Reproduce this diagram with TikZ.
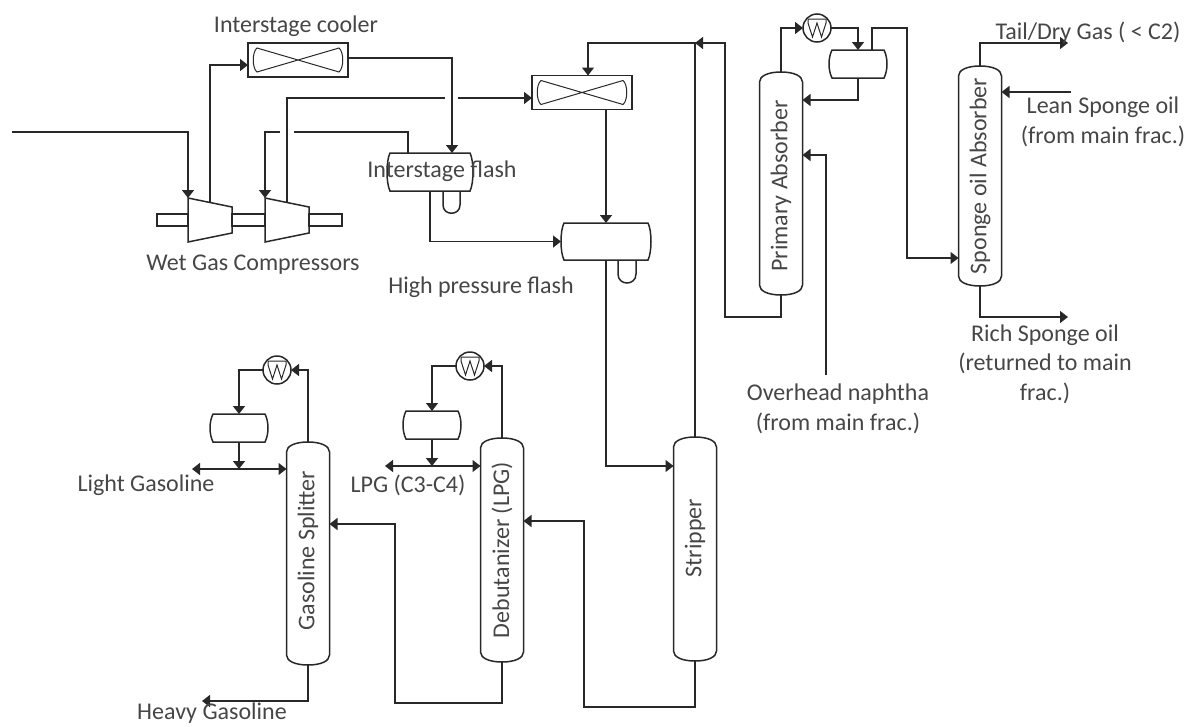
\documentclass[tikz,border=0pt]{standalone}
\usepackage{fontspec}
\setmainfont{Carlito}
\usepackage{xcolor}
\usetikzlibrary{arrows.meta, calc}
\definecolor{linegray}{RGB}{40, 40, 40}
\definecolor{textgray}{RGB}{70, 70, 70}

\begin{document}
\begin{tikzpicture}[
  x=1pt, y=-1pt,
  every node/.style={inner sep=0pt, outer sep=0pt},
  line width=1.5pt, color=linegray,
  arr/.style={-{Triangle[length=8pt,width=12pt]}},
  txt/.style={font=\fontsize{24}{29.5}\selectfont, text=textgray, align=center},
  column/.style={minimum width=43pt, txt,
    append after command={\pgfextra{\let\LN\tikzlastnode
      \draw ([yshift=-10pt]\LN.north west) .. controls +(0,-6) and +(-13,0) .. (\LN.north)
        .. controls +(13,0) and +(0,-6) .. ([yshift=-10pt]\LN.north east)
        -- ([yshift=10pt]\LN.south east) .. controls +(0,6) and +(13,0) .. (\LN.south)
        .. controls +(-13,0) and +(0,6) .. ([yshift=10pt]\LN.south west) -- cycle;}}},
  drum/.style={
    append after command={\pgfextra{\let\LN\tikzlastnode
      \draw ([xshift=3pt]\LN.north west) -- ([xshift=-3pt]\LN.north east)
        .. controls +(4,8) and +(4,-8) .. ([xshift=-3pt]\LN.south east)
        -- ([xshift=3pt]\LN.south west)
        .. controls +(-4,-8) and +(-4,8) .. cycle;}}},
  cooler/.style={draw, minimum width=100pt, minimum height=34pt,
    append after command={\pgfextra{\let\LN\tikzlastnode
      \draw[shift={(\LN.center)}, line width=1pt] (-41,-12) -- (41,12)
        .. controls (46,8) and (46,-8) .. (41,-12) -- (-41,12)
        .. controls (-46,8) and (-46,-8) .. cycle;}}},
  condenser/.style={draw, circle, minimum size=28pt,
    append after command={\pgfextra{\let\LN\tikzlastnode
      \draw[shift={(\LN.center)}, line width=1pt] (-9,-9) -- (9,-9) -- (9,-5) -- (4.5,9) -- (0,-5) -- (-4.5,9) -- (-9,-5) -- cycle;}}},
  compressor/.style={minimum width=44pt, minimum height=44pt,
    append after command={\pgfextra{\let\LN\tikzlastnode
      \draw (\LN.north west) -- ([yshift=-9pt]\LN.north east)
        -- ([yshift=9pt]\LN.south east) -- (\LN.south west) -- cycle;}}},
  shaft/.style={draw, minimum height=12pt}
]

\useasboundingbox (0,0) rectangle (1189,726);

% columns
\node[column, minimum height=223pt] (gsplit)   at (308,553.5) {\rotatebox{90}{\hspace{6pt}Gasoline Splitter}};
\node[column, minimum height=224pt] (debut)    at (502,550)   {\rotatebox{90}{Debutanizer (LPG)}};
\node[column, minimum height=224pt] (stripper) at (695,549)   {\rotatebox{90}{\hspace{22pt}Stripper}};
\node[column, minimum height=223pt] (absorber) at (781,183.5) {\rotatebox{90}{Primary Absorber\hspace{5pt}}};
\node[column, minimum height=220pt] (sponge)   at (980,176)   {\rotatebox{90}{Sponge oil Absorber}};

% drums
\node[drum, minimum width=86pt, minimum height=38pt] (flash)   at (430,172)   {};
\node[drum, minimum width=90pt, minimum height=37pt] (hpflash) at (606,241.5) {};
\node[drum, minimum width=58pt, minimum height=28pt] (topdrum) at (858,64)    {};
\node[drum, minimum width=58pt, minimum height=28pt] (gsdrum)  at (239,428)   {};
\node[drum, minimum width=58pt, minimum height=28pt] (debdrum) at (432,425)   {};
\draw ([xshift=13pt]flash.south) -- ++(0,14) .. controls +(0,11) and +(0,11) .. ++(17,0) -- ++(0,-14);
\draw ([xshift=12pt]hpflash.south) -- ++(0,14) .. controls +(0,12) and +(0,12) .. ++(18,0) -- ++(0,-14);

% coolers, condensers
\node[cooler] (cooler1) at (298,60) {};
\node[cooler] (cooler2) at (582,92.5) {};
\node[condenser] (cond1) at (817,28) {};
\node[condenser] (cond2) at (277,370) {};
\node[condenser] (cond3) at (470,366) {};

% compressors
\node[shaft, minimum width=31pt] (shaft1) at (172.5,220) {};
\node[shaft, minimum width=33pt] (shaft2) at (248.5,220) {};
\node[shaft, minimum width=33pt] (shaft3) at (325.5,220) {};
\node[compressor] (comp1) at (210,220) {};
\node[compressor] (comp2) at (287,220) {};

% free ends
\coordinate (feedin)  at (12,132);
\coordinate (gap1a)   at (294,132);
\coordinate (gap1b)   at (280,132);
\coordinate (gap2a)   at (445,98);
\coordinate (gap2b)   at (458,98);
\coordinate (tee)     at (695,43);
\coordinate (riser)   at (725,317);
\coordinate (ovhd)    at (907,28);
\coordinate (naphin)  at (826,375);
\coordinate (tailout) at (1068,43);
\coordinate (leanin)  at (1071,92);
\coordinate (richout) at (1068,317);
\coordinate (gsjoin)  at (239,469);
\coordinate (lightout) at (192,469);
\coordinate (debjoin) at (432,466);
\coordinate (lpgout)  at (385,466);
\coordinate (heavyout) at (202,701);
\coordinate (return1) at (395,703);
\coordinate (return2) at (584,707);

% compression section
\draw[arr] (feedin) -| (comp1.north west);
\draw[arr] ([yshift=-4.5pt]comp1.north) |- ([yshift=-5pt]cooler1.west);
\draw[arr] ([yshift=2pt]cooler1.east) -| ([xshift=22pt]flash.north);
\draw[arr] ([xshift=-22pt]flash.north) |- (gap1a) (gap1b) -| (comp2.north west);
\draw[arr] ([yshift=-4.5pt]comp2.north) |- (gap2a) (gap2b) -- (cooler2.west |- gap2b);
\draw[arr] (flash.south) |- (hpflash.west);
\draw[arr] (hpflash.north |- cooler2.south) -- (hpflash.north);
\draw[arr] (hpflash.south) |- ([yshift=83pt]stripper.west);
\draw[arr] (stripper.north) -- (tee) -| ([xshift=6pt]cooler2.north);
\draw[arr] (absorber.south) |- (riser) -- (riser |- tee) -- (tee);

% absorbers
\draw[arr] (absorber.north) |- (cond1.west);
\draw[arr] (cond1.east) -| (topdrum.north);
\draw[arr] (topdrum.south) |- ([yshift=83.5pt]absorber.east);
\draw[arr] ([xshift=14pt]topdrum.north) |- (ovhd) |- ([yshift=-82pt]sponge.west);
\draw[arr] (naphin) |- ([yshift=28.5pt]absorber.east);
\draw[arr] (sponge.north) |- (tailout);
\draw[arr] (leanin) -- (sponge.east |- leanin);
\draw[arr] (sponge.south) |- (richout);

% gasoline splitter
\draw[arr] (gsplit.north) |- (cond2.east);
\draw[arr] (cond2.west) -| (gsdrum.north);
\draw[arr] (gsdrum.south) -- (gsjoin);
\draw[arr] (gsjoin) -- (lightout);
\draw[arr] (gsjoin) -- (gsplit.west |- gsjoin);
\draw[arr] (gsplit.south) |- (heavyout);

% debutanizer
\draw[arr] (debut.north) |- (cond3.east);
\draw[arr] (cond3.west) -| (debdrum.north);
\draw[arr] (debdrum.south) -- (debjoin);
\draw[arr] (debjoin) -- (lpgout);
\draw[arr] (debjoin) -- (debut.west |- debjoin);
\draw[arr] (debut.south) |- (return1) |- ([yshift=29.5pt]gsplit.east);
\draw[arr] (stripper.south) |- (return2) |- ([yshift=29pt]debut.east);

% labels
\node[txt] (lcooler) at (296,26)   {Interstage cooler};
\node[txt] (lflash)  at (442,171)  {Interstage flash};
\node[txt] (lcomp)   at (253,265)  {Wet Gas Compressors};
\node[txt] (lhp)     at (481,287)  {High pressure flash};
\node[txt] (ltail)   at (1088,33)  {Tail/Dry Gas ( < C2)};
\node[txt] (llean)   at (1103,122) {Lean Sponge oil\\(from main frac.)};
\node[txt] (lrich)   at (1045,364) {Rich Sponge oil\\(returned to main\\frac.)};
\node[txt] (lnaph)   at (838,409)  {Overhead naphtha\\(from main frac.)};
\node[txt] (llight)  at (146,485)  {Light Gasoline};
\node[txt] (llpg)    at (408,485)  {LPG (C3-C4)};
\node[txt] (lheavy)  at (212,713)  {Heavy Gasoline};

\end{tikzpicture}
\end{document}
